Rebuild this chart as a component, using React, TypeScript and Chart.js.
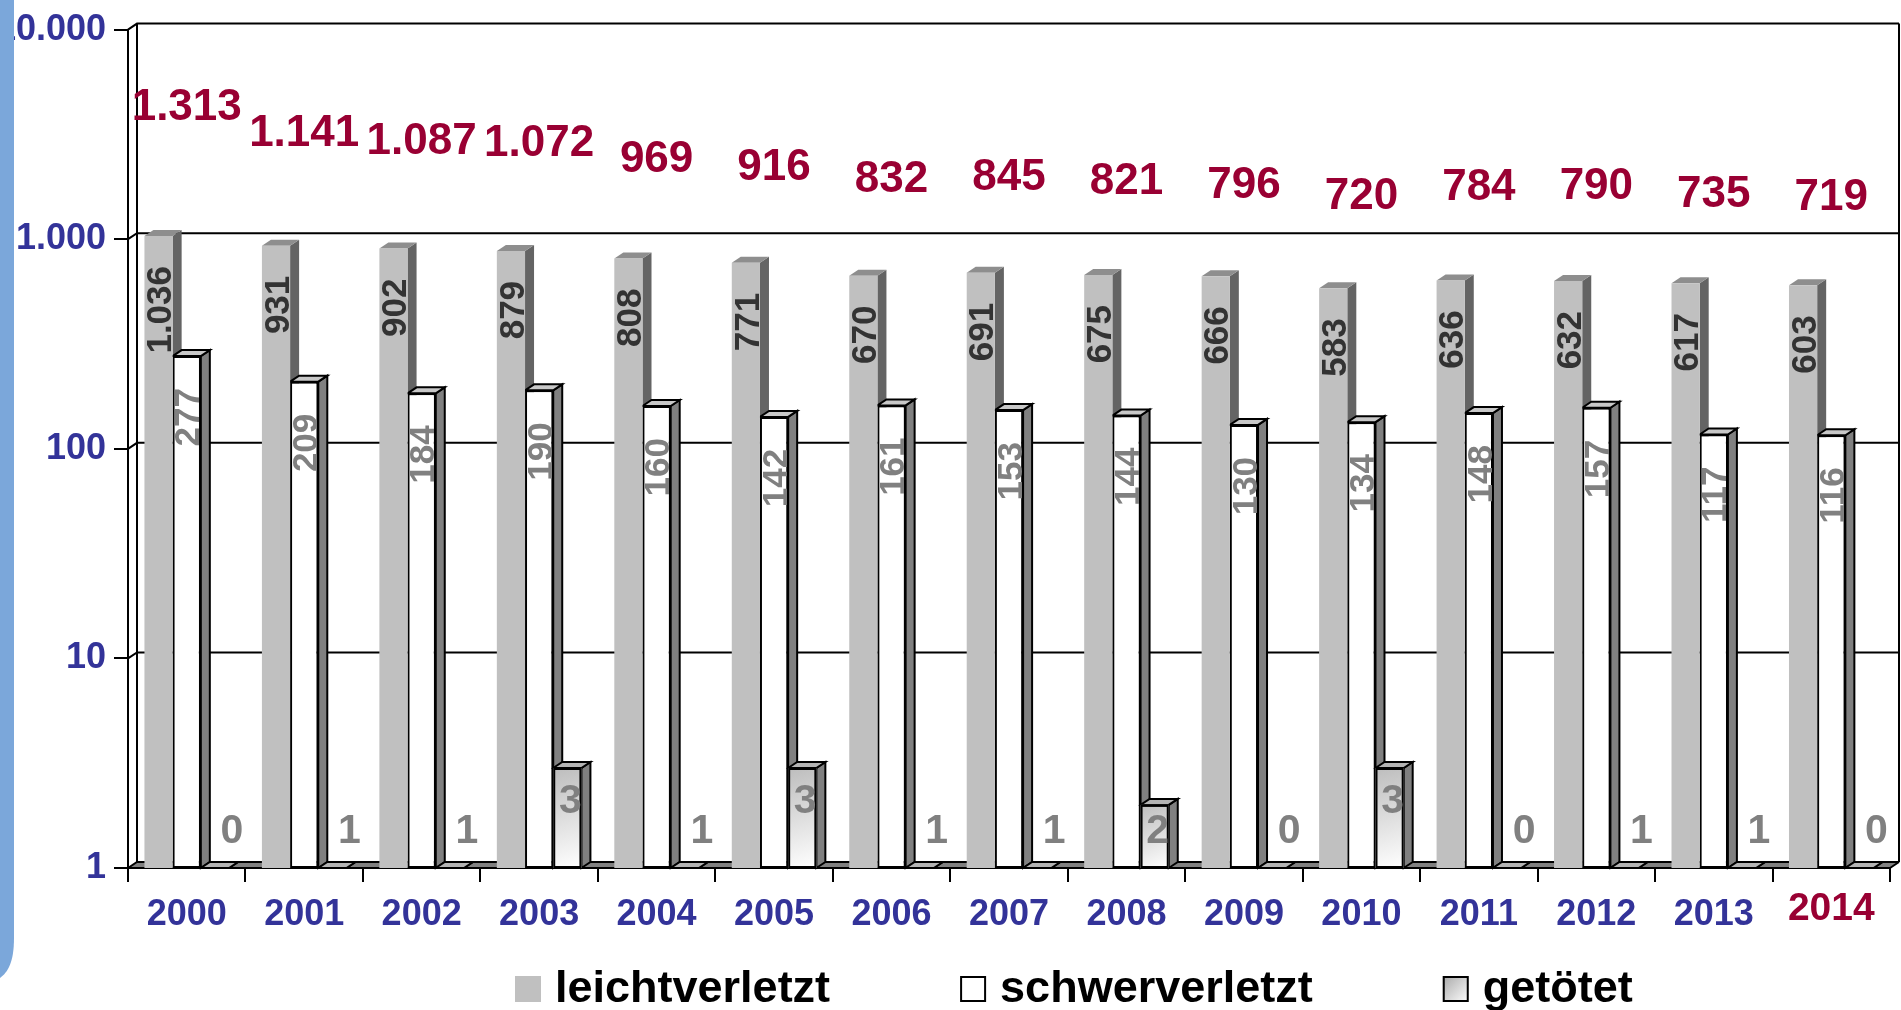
import React, { useEffect, useRef } from 'react';
import { Chart, registerables } from 'chart.js';

Chart.register(...registerables);

// ---- data ----
const years = ['2000', '2001', '2002', '2003', '2004', '2005', '2006', '2007', '2008', '2009', '2010', '2011', '2012', '2013', '2014'];
const leichtverletzt = [1036, 931, 902, 879, 808, 771, 670, 691, 675, 666, 583, 636, 632, 617, 603];
const schwerverletzt = [277, 209, 184, 190, 160, 142, 161, 153, 144, 130, 134, 148, 157, 117, 116];
const getoetet = [0, 1, 1, 3, 1, 3, 1, 1, 2, 0, 3, 0, 1, 1, 0];
const totals = [1313, 1141, 1087, 1072, 969, 916, 832, 845, 821, 796, 720, 784, 790, 735, 719];
const yTicks = [1, 10, 100, 1000, 10000];
const seriesLabels = ['leichtverletzt', 'schwerverletzt', 'getötet'];
const highlightYear = '2014';

// ---- styling ----
const FONT = "'Liberation Sans', Arial, Helvetica, sans-serif";
const DX = 9;
const DY = 6;

const fmt = (v: number) => String(Math.round(v)).replace(/\B(?=(\d{3})+(?!\d))/g, '.');

function poly(ctx: CanvasRenderingContext2D, pts: number[][], fill?: string | CanvasGradient, stroke?: string, lw = 2) {
  ctx.beginPath();
  ctx.moveTo(pts[0][0], pts[0][1]);
  for (let i = 1; i < pts.length; i++) ctx.lineTo(pts[i][0], pts[i][1]);
  ctx.closePath();
  if (fill) {
    ctx.fillStyle = fill;
    ctx.fill();
  }
  if (stroke) {
    ctx.strokeStyle = stroke;
    ctx.lineWidth = lw;
    ctx.lineJoin = 'miter';
    ctx.stroke();
  }
}

const sideStyles = [
  { side: '#646464', top: '#8e8e8e', stroke: undefined as string | undefined },
  { side: '#808080', top: '#c8c8c8', stroke: '#000' },
  { side: '#808080', top: '#b4b4b4', stroke: '#000' },
];

function barGeom(el: any) {
  const p = el.getProps(['x', 'y', 'base', 'width'], true);
  const left = p.x - p.width / 2;
  const right = p.x + p.width / 2;
  const top = Math.min(p.y, p.base);
  const bottom = Math.max(p.y, p.base);
  return { x: p.x, left, right, top, bottom };
}

const threeD = {
  id: 'threeD',
  beforeDraw(chart: any) {
    const { ctx, chartArea: a, scales } = chart;
    const ys = scales.y;
    ctx.save();
    const yb = a.bottom;
    // floor
    poly(ctx, [[a.left, yb], [a.left + DX, yb - DY], [a.right + DX, yb - DY], [a.right, yb]], '#808080');
    // back wall grid lines with connectors to the front axis
    ctx.strokeStyle = '#000';
    ctx.lineWidth = 2;
    for (const v of yTicks) {
      const py = ys.getPixelForValue(v);
      ctx.beginPath();
      ctx.moveTo(a.left, py);
      ctx.lineTo(a.left + DX, py - DY);
      ctx.lineTo(a.right + DX, py - DY);
      ctx.stroke();
    }
    const topY = ys.getPixelForValue(yTicks[yTicks.length - 1]) - DY;
    ctx.beginPath();
    ctx.moveTo(a.left + DX, topY);
    ctx.lineTo(a.left + DX, yb - DY);
    ctx.moveTo(a.right + DX, topY);
    ctx.lineTo(a.right + DX, yb - DY);
    ctx.moveTo(a.right, yb);
    ctx.lineTo(a.right + DX, yb - DY);
    ctx.stroke();
    ctx.restore();
  },
  beforeDatasetsDraw(chart: any) {
    const { ctx } = chart;
    ctx.save();
    const n = years.length;
    for (let i = 0; i < n; i++) {
      for (let d = 0; d < 3; d++) {
        const el = chart.getDatasetMeta(d).data[i];
        if (!el) continue;
        const g = barGeom(el);
        const st = sideStyles[d];
        poly(ctx, [[g.right, g.top], [g.right + DX, g.top - DY], [g.right + DX, g.bottom - DY], [g.right, g.bottom]], st.side, st.stroke);
        poly(ctx, [[g.left, g.top], [g.left + DX, g.top - DY], [g.right + DX, g.top - DY], [g.right, g.top]], st.top, st.stroke);
      }
    }
    ctx.restore();
  },
  afterDatasetsDraw(chart: any) {
    const { ctx } = chart;
    ctx.save();
    // gradient faces of the "getötet" bars
    const m2 = chart.getDatasetMeta(2);
    m2.data.forEach((el: any) => {
      const g = barGeom(el);
      if (g.bottom - g.top < 2) return;
      const grad = ctx.createLinearGradient(g.left, g.top, g.right, g.bottom);
      grad.addColorStop(0, '#bdbdbd');
      grad.addColorStop(1, '#ffffff');
      ctx.fillStyle = grad;
      ctx.fillRect(g.left, g.top, g.right - g.left, g.bottom - g.top);
      ctx.strokeStyle = '#000';
      ctx.lineWidth = 2;
      ctx.strokeRect(g.left + 1, g.top + 1, g.right - g.left - 2, g.bottom - g.top - 2);
    });

    // rotated value labels for the first two series
    const rotatedCfg = [
      { color: '#333333', off: 30 },
      { color: '#808080', off: 32 },
    ];
    for (let d = 0; d < 2; d++) {
      const meta = chart.getDatasetMeta(d);
      const vals = chart.data.datasets[d].data as number[];
      meta.data.forEach((el: any, i: number) => {
        const g = barGeom(el);
        ctx.save();
        ctx.translate(g.x + 3, g.top + rotatedCfg[d].off);
        ctx.rotate(-Math.PI / 2);
        ctx.font = `bold 35px ${FONT}`;
        ctx.fillStyle = rotatedCfg[d].color;
        ctx.textAlign = 'right';
        ctx.textBaseline = 'middle';
        ctx.fillText(fmt(vals[i]), 0, 0);
        ctx.restore();
      });
    }
    // labels for getötet
    const vals2 = chart.data.datasets[2].data as number[];
    m2.data.forEach((el: any, i: number) => {
      const g = barGeom(el);
      const v = vals2[i];
      const cx = g.x + 3 + (v <= 1 ? 14 : 0);
      const cy = Math.min(g.top + 34, g.bottom - 36);
      ctx.font = `bold 41px ${FONT}`;
      ctx.fillStyle = '#808080';
      ctx.textAlign = 'center';
      ctx.textBaseline = 'middle';
      ctx.fillText(fmt(v), cx, cy);
    });
    // totals
    const m3 = chart.getDatasetMeta(3);
    const vals3 = chart.data.datasets[3].data as number[];
    m3.data.forEach((el: any, i: number) => {
      const p = el.getProps(['x', 'y'], true);
      ctx.font = `bold 44px ${FONT}`;
      ctx.fillStyle = '#990033';
      ctx.textAlign = 'center';
      ctx.textBaseline = 'middle';
      ctx.fillText(fmt(vals3[i]), p.x, p.y);
    });
    ctx.restore();
  },
  afterDraw(chart: any) {
    const { ctx } = chart;
    ctx.save();
    // blue panel edge on the left
    ctx.fillStyle = '#7BA7DA';
    ctx.beginPath();
    ctx.moveTo(0, 0);
    ctx.lineTo(14, 0);
    ctx.lineTo(14, 938);
    ctx.bezierCurveTo(14, 962, 8, 972, 0, 978);
    ctx.closePath();
    ctx.fill();

    // legend
    const boxY = 976;
    const box = 26;
    let x = 515;
    ctx.font = `bold 45px ${FONT}`;
    ctx.textBaseline = 'alphabetic';
    ctx.textAlign = 'left';
    seriesLabels.forEach((lab, d) => {
      if (d === 0) {
        ctx.fillStyle = '#C0C0C0';
        ctx.fillRect(x, boxY, box, box);
      } else if (d === 1) {
        ctx.fillStyle = '#fff';
        ctx.fillRect(x, boxY, box, box);
        ctx.strokeStyle = '#000';
        ctx.lineWidth = 2;
        ctx.strokeRect(x + 1, boxY + 1, box - 2, box - 2);
      } else {
        const grad = ctx.createLinearGradient(x, boxY, x + box, boxY + box);
        grad.addColorStop(0, '#a8a8a8');
        grad.addColorStop(1, '#ffffff');
        ctx.fillStyle = grad;
        ctx.fillRect(x, boxY, box, box);
        ctx.strokeStyle = '#000';
        ctx.lineWidth = 2;
        ctx.strokeRect(x + 1, boxY + 1, box - 2, box - 2);
      }
      ctx.fillStyle = '#000';
      const tx = x + box + 14;
      ctx.fillText(lab, tx, 1002);
      x = tx + ctx.measureText(lab).width + 130;
    });
    ctx.restore();
  },
};

export default function App() {
  const ref = useRef<HTMLCanvasElement>(null);
  useEffect(() => {
    const canvas = ref.current!;
    const chart = new Chart(canvas, {
      type: 'bar',
      data: {
        labels: years,
        datasets: [
          { label: seriesLabels[0], data: leichtverletzt, backgroundColor: '#C0C0C0', borderWidth: 0 },
          { label: seriesLabels[1], data: schwerverletzt, backgroundColor: '#FFFFFF', borderColor: '#000000', borderWidth: 2, borderSkipped: false },
          { label: seriesLabels[2], data: getoetet, backgroundColor: '#E2E2E2', borderColor: '#000000', borderWidth: 2, borderSkipped: false },
          { type: 'line', label: 'gesamt', data: totals, yAxisID: 'y2', showLine: false, pointRadius: 0, pointHoverRadius: 0, borderColor: 'rgba(0,0,0,0)', backgroundColor: 'rgba(0,0,0,0)' } as any,
        ],
      },
      options: {
        responsive: false,
        animation: false,
        events: [],
        layout: { padding: { top: 23, right: 11, bottom: 0, left: 0 } },
        datasets: { bar: { categoryPercentage: 0.72, barPercentage: 1 } } as any,
        plugins: { legend: { display: false }, tooltip: { enabled: false } },
        scales: {
          x: {
            type: 'category',
            offset: true,
            grid: { offset: true, drawOnChartArea: false, drawTicks: true, tickLength: 14, color: '#000', lineWidth: 2 },
            border: { display: true, color: '#000', width: 2 },
            ticks: {
              padding: 11,
              maxRotation: 0,
              autoSkip: false,
              color: (c: any) => (years[c.index] === highlightYear ? '#990033' : '#333399'),
              font: (c: any) =>
                years[c.index] === highlightYear
                  ? { family: FONT, size: 39, weight: 'bold', lineHeight: 0.85 }
                  : { family: FONT, size: 36, weight: 'bold', lineHeight: 1.2 },
            },
            afterFit: (s: any) => {
              s.height = 142;
            },
          },
          y: {
            type: 'logarithmic',
            position: 'left',
            min: 1,
            max: 10000,
            afterBuildTicks: (s: any) => {
              s.ticks = yTicks.map((v) => ({ value: v }));
            },
            grid: { drawOnChartArea: false, drawTicks: true, tickLength: 14, color: '#000', lineWidth: 2 },
            border: { display: true, color: '#000', width: 2 },
            ticks: {
              padding: 8,
              color: '#333399',
              font: { family: FONT, size: 36, weight: 'bold' },
              callback: (v: any) => fmt(Number(v)),
            },
            afterFit: (s: any) => {
              s.width = 128;
            },
          },
          y2: {
            type: 'linear',
            display: false,
            min: -3710,
            max: 1827,
          },
        },
      },
      plugins: [threeD],
    });
    return () => chart.destroy();
  }, []);
  return (
    <div style={{ position: 'absolute', left: 0, top: 0, width: 1901, height: 1010, background: '#fff', overflow: 'hidden' }}>
      <canvas ref={ref} width={1901} height={1010} style={{ display: 'block' }} />
    </div>
  );
}
